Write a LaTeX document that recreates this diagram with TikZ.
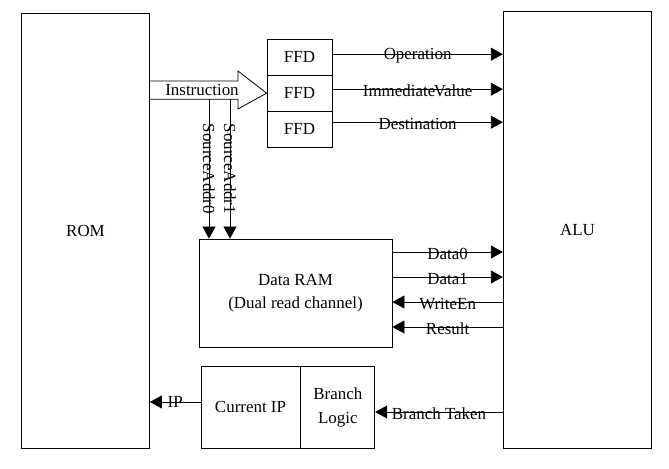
\documentclass[tikz,border=0pt]{standalone}
\usepackage{fontspec}
\setmainfont{Liberation Serif}
\usetikzlibrary{arrows.meta}

\tikzset{
  blk/.style={draw, line width=0.8bp, inner sep=0pt, align=center},
  sig/.style={line width=0.8bp, -{Triangle[length=12bp,width=13bp]}},
  lbl/.style={inner sep=0pt},
}

\begin{document}
\begin{tikzpicture}[x=1bp,y=-1bp]
\useasboundingbox (0,0) rectangle (669,469);
{\fontsize{17}{20}\selectfont

% Drawing block ROM
\node[blk, minimum width=128bp, minimum height=434.5bp] (rom) at (85.5,231) {ROM};%

% Drawing block ALU
\node[blk, minimum width=148.5bp, minimum height=436.5bp] (alu) at (577.5,229.7) {ALU};%

% Drawing the three FFD registers
\node[blk, minimum width=65bp, minimum height=36bp] (ffd1) at (299.5,57.2) {FFD};%
\node[blk, minimum width=65bp, minimum height=36bp] (ffd2) at (299.5,93.2) {FFD};%
\node[blk, minimum width=65bp, minimum height=36bp] (ffd3) at (299.5,129.2) {FFD};%

% Drawing block Data RAM
\node[blk, minimum width=193bp, minimum height=108bp] (ram) at (295.5,293) {Data RAM\\[3bp](Dual read channel)};%

% Drawing blocks Current IP and Branch Logic
\node[blk, minimum width=99bp, minimum height=82bp] (cip) at (250.5,407) {Current IP};%
\node[blk, minimum width=74bp, minimum height=82bp, anchor=west] (blogic) at (cip.east) {Branch\\[4bp]Logic};%

% Drawing wide arrow Instruction
\coordinate (sh1) at (rom.east |- 0,81);%
\coordinate (sh2) at (rom.east |- 0,99.3);%
\draw [line width=0.8bp] (sh1) -- (238,81) -- (238,71) -- (ffd2.west) -- (238,109) -- (238,99.3) -- (sh2);%
\node[lbl] (instr) at (202,90) {Instruction};%

% Drawing lines SourceAddr0 and SourceAddr1
\coordinate (sa0) at (209,99.3);%
\coordinate (sa1) at (230,99.3);%
\draw [sig] (sa0) -- (sa0 |- ram.north) node[lbl, midway, rotate=-90] {SourceAddr0};%
\draw [sig] (sa1) -- (sa1 |- ram.north) node[lbl, midway, rotate=-90] {SourceAddr1};%

% Drawing lines from FFD to ALU
\draw [sig] ([yshift=3bp]ffd1.east) -- ([yshift=3bp]ffd1.east -| alu.west) node[lbl, midway, yshift=-2bp] {Operation};%
\draw [sig] ([yshift=4bp]ffd2.east) -- ([yshift=4bp]ffd2.east -| alu.west) node[lbl, midway, yshift=-2bp] {Immediate\kern-1.5pt Value};%
\draw [sig] ([yshift=7bp]ffd3.east) -- ([yshift=7bp]ffd3.east -| alu.west) node[lbl, midway, yshift=-2bp] {Destination};%

% Drawing lines between Data RAM and ALU
\coordinate (d0) at (alu.west |- 0,252);%
\coordinate (d1) at (alu.west |- 0,277);%
\coordinate (we) at (alu.west |- 0,302);%
\coordinate (res) at (alu.west |- 0,327);%
\draw [sig] (d0 -| ram.east) -- (d0) node[lbl, midway, yshift=-2bp] {Data0};%
\draw [sig] (d1 -| ram.east) -- (d1) node[lbl, midway, yshift=-2bp] {Data1};%
\draw [sig] (we) -- (we -| ram.east) node[lbl, midway, yshift=-2bp] {WriteEn};%
\draw [sig] (res) -- (res -| ram.east) node[lbl, midway, yshift=-2bp] {Result};%

% Drawing lines IP and Branch Taken
\coordinate (bt) at (alu.west |- 0,412);%
\draw [sig] (bt) -- (bt -| blogic.east) node[lbl, midway, yshift=-2bp] {Branch Taken};%
\draw [sig] ([yshift=5bp]cip.west) -- ([yshift=5bp]cip.west -| rom.east) node[lbl, midway] {IP};%
}
\end{tikzpicture}
\end{document}
